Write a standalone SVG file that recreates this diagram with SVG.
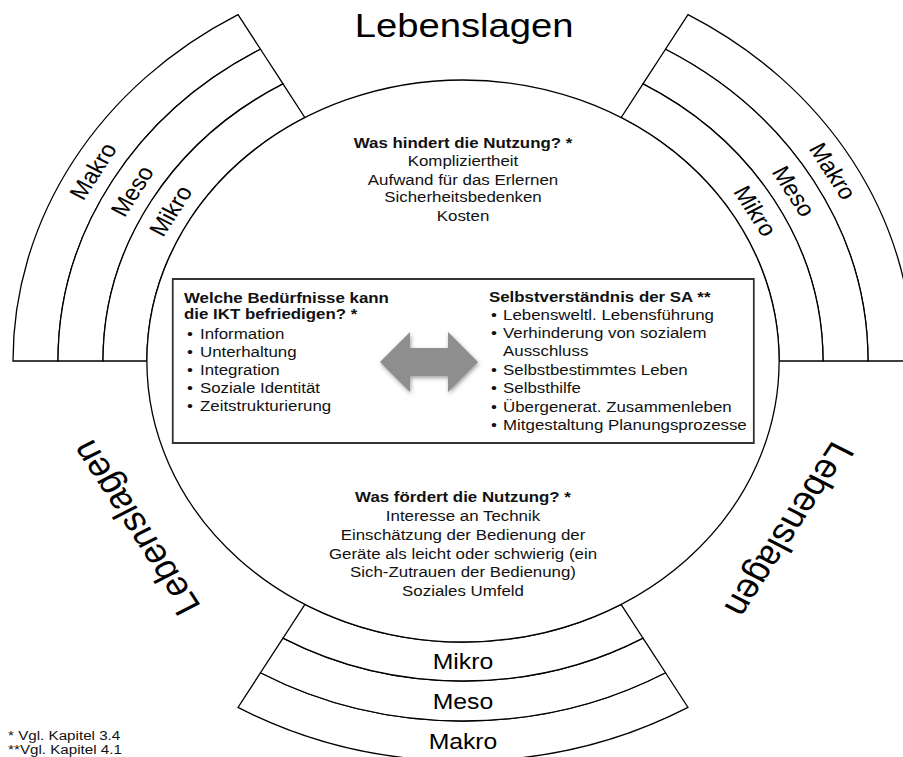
<svg xmlns="http://www.w3.org/2000/svg" width="903" height="757" viewBox="0 0 903 757">
<defs>
<style>
.cell{fill:#fff;stroke:#000;stroke-width:1.3;vector-effect:non-scaling-stroke}
.oval{fill:#fff;stroke:#000;stroke-width:1.3;vector-effect:non-scaling-stroke}
.box{fill:#fff;stroke:#333;stroke-width:1.8;vector-effect:non-scaling-stroke}
.ring{font-family:"Liberation Sans",Arial,sans-serif;font-size:22px;fill:#000;text-anchor:middle}
.title{font-family:"Liberation Sans",Arial,sans-serif;font-size:34px;fill:#000;text-anchor:middle}
.t{font-family:"Liberation Sans",Arial,sans-serif;font-size:15px;fill:#111}
.fn{font-family:"Liberation Sans",Arial,sans-serif;font-size:13.5px;fill:#111}
.c{text-anchor:middle}
.b{font-weight:bold}
</style>
<filter id="soft" x="-30%" y="-30%" width="160%" height="160%">
<feGaussianBlur in="SourceAlpha" stdDeviation="2"/>
<feOffset dx="1" dy="2" result="sh"/>
<feFlood flood-color="#555" flood-opacity="0.55"/>
<feComposite in2="sh" operator="in" result="shadow"/>
<feGaussianBlur in="SourceGraphic" stdDeviation="0.7" result="src"/>
<feMerge><feMergeNode in="shadow"/><feMergeNode in="src"/></feMerge>
</filter>
</defs>
<rect width="903" height="757" fill="#fff"/>
<g transform="translate(463,0) scale(1.125,1)">
<g id="segment-top-left">
<path class="cell" d="M -400 361 A 400 400 0 0 1 -200 14.59 L -180 49.23 A 360 360 0 0 0 -360 361 Z"/>
<path class="cell" d="M -360 361 A 360 360 0 0 1 -180 49.23 L -160 83.87 A 320 320 0 0 0 -320 361 Z"/>
<path class="cell" d="M -320 361 A 320 320 0 0 1 -160 83.87 L -140.5 117.65 A 281 281 0 0 0 -281 361 Z"/>
<text class="ring" transform="translate(-329.1,171) rotate(-60)" y="8">Makro</text>
<text class="ring" transform="translate(-294.4,191) rotate(-60)" y="8">Meso</text>
<text class="ring" transform="translate(-260.2,210.75) rotate(-60)" y="8">Mikro</text>
</g>
<g id="segment-top-right">
<path class="cell" d="M 200 14.59 A 400 400 0 0 1 400 361 L 360 361 A 360 360 0 0 0 180 49.23 Z"/>
<path class="cell" d="M 180 49.23 A 360 360 0 0 1 360 361 L 320 361 A 320 320 0 0 0 160 83.87 Z"/>
<path class="cell" d="M 160 83.87 A 320 320 0 0 1 320 361 L 281 361 A 281 281 0 0 0 140.5 117.65 Z"/>
<text class="ring" transform="translate(329.1,171) rotate(60)" y="8">Makro</text>
<text class="ring" transform="translate(294.4,191) rotate(60)" y="8">Meso</text>
<text class="ring" transform="translate(260.2,210.75) rotate(60)" y="8">Mikro</text>
</g>
<g id="segment-bottom">
<path class="cell" d="M -180 672.77 A 360 360 0 0 0 180 672.77 L 200 707.41 A 400 400 0 0 1 -200 707.41 Z"/>
<path class="cell" d="M -160 638.13 A 320 320 0 0 0 160 638.13 L 180 672.77 A 360 360 0 0 1 -180 672.77 Z"/>
<path class="cell" d="M -140.5 604.35 A 281 281 0 0 0 140.5 604.35 L 160 638.13 A 320 320 0 0 1 -160 638.13 Z"/>
<text class="ring" x="0" y="669.5">Mikro</text>
<text class="ring" x="0" y="709">Meso</text>
<text class="ring" x="0" y="749">Makro</text>
</g>
<g id="lebenslagen-labels">
<text class="title" x="1" y="37">Lebenslagen</text>
<text class="title" x="1" y="37" transform="rotate(-120 0 361)">Lebenslagen</text>
<text class="title" x="1" y="37" transform="rotate(120 0 361)">Lebenslagen</text>
</g>
<g id="center-oval">
<circle class="oval" cx="0" cy="361" r="281"/>
</g>
<g id="hindert">
<text class="t c b" x="0" y="148">Was hindert die Nutzung? *</text>
<text class="t c" x="0" y="166">Kompliziertheit</text>
<text class="t c" x="0" y="185">Aufwand für das Erlernen</text>
<text class="t c" x="0" y="202">Sicherheitsbedenken</text>
<text class="t c" x="0" y="221">Kosten</text>
</g>
<g id="foerdert">
<text class="t c b" x="0" y="502">Was fördert die Nutzung? *</text>
<text class="t c" x="0" y="521">Interesse an Technik</text>
<text class="t c" x="0" y="540">Einschätzung der Bedienung der</text>
<text class="t c" x="0" y="559">Geräte als leicht oder schwierig (ein</text>
<text class="t c" x="0" y="577">Sich-Zutrauen der Bedienung)</text>
<text class="t c" x="0" y="596">Soziales Umfeld</text>
</g>
<g id="center-box">
<rect class="box" x="-258" y="279" width="516.5" height="164"/>
</g>
<g id="beduerfnisse">
<text class="t b" x="-248" y="303">Welche Bedürfnisse kann</text>
<text class="t b" x="-248" y="319">die IKT befriedigen? *</text>
<text class="t" y="339"><tspan x="-245.3">•</tspan><tspan x="-233.8">Information</tspan></text>
<text class="t" y="357"><tspan x="-245.3">•</tspan><tspan x="-233.8">Unterhaltung</tspan></text>
<text class="t" y="375"><tspan x="-245.3">•</tspan><tspan x="-233.8">Integration</tspan></text>
<text class="t" y="393"><tspan x="-245.3">•</tspan><tspan x="-233.8">Soziale Identität</tspan></text>
<text class="t" y="411"><tspan x="-245.3">•</tspan><tspan x="-233.8">Zeitstrukturierung</tspan></text>
</g>
<g id="selbstverstaendnis">
<text class="t b" x="23.1" y="302">Selbstverständnis der SA **</text>
<text class="t" y="320"><tspan x="24.9">•</tspan><tspan x="35.6">Lebensweltl. Lebensführung</tspan></text>
<text class="t" y="338"><tspan x="24.9">•</tspan><tspan x="35.6">Verhinderung von sozialem</tspan></text>
<text class="t" x="35.6" y="356">Ausschluss</text>
<text class="t" y="375"><tspan x="24.9">•</tspan><tspan x="35.6">Selbstbestimmtes Leben</tspan></text>
<text class="t" y="393"><tspan x="24.9">•</tspan><tspan x="35.6">Selbsthilfe</tspan></text>
<text class="t" y="412"><tspan x="24.9">•</tspan><tspan x="35.6">Übergenerat. Zusammenleben</tspan></text>
<text class="t" y="430"><tspan x="24.9">•</tspan><tspan x="35.6">Mitgestaltung Planungsprozesse</tspan></text>
</g>
<g id="connectors">
<path d="M -73.8 362 L -47.1 332 L -47.1 348 L -13.3 348 L -13.3 332 L 13.3 362 L -13.3 392 L -13.3 376 L -47.1 376 L -47.1 392 Z" fill="#8e8e8e" filter="url(#soft)"/>
</g>
<g id="footnotes">
<text class="fn" x="-404.4" y="740">* Vgl. Kapitel 3.4</text>
<text class="fn" x="-404.4" y="754">**Vgl. Kapitel 4.1</text>
</g>
</g>
</svg>
